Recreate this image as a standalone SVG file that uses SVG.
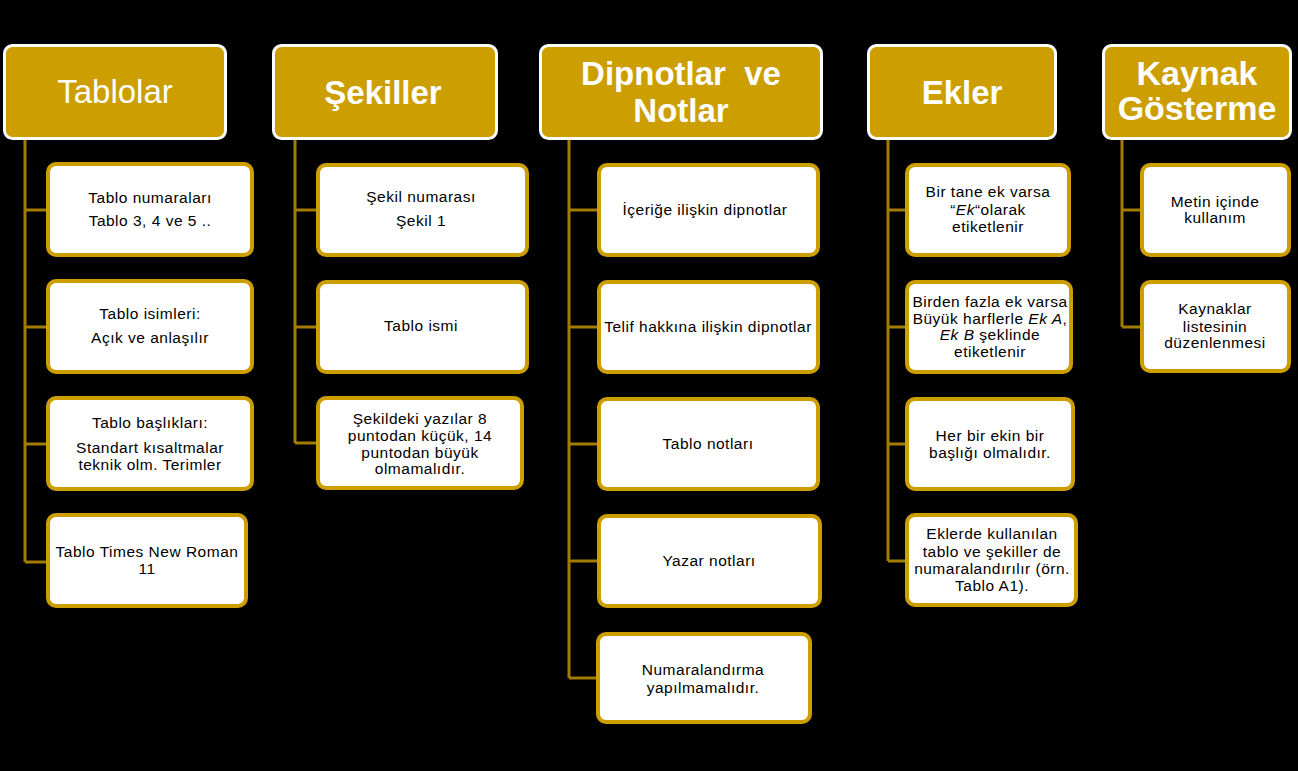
<svg xmlns="http://www.w3.org/2000/svg" width="1298" height="771" viewBox="0 0 1298 771">
<style>
.hd{fill:#CC9E00;stroke:#FFFFFF;stroke-width:3}
.bx{fill:#FFFFFF;stroke:#CC9E00;stroke-width:4}
.ht{font-family:"Liberation Sans",Arial,sans-serif;font-size:33px;font-weight:bold;fill:#FFFFFF;text-anchor:middle}
.ct{font-family:"Liberation Sans",Arial,sans-serif;font-size:15.5px;letter-spacing:0.5px;fill:#000000;text-anchor:middle}
.cn{stroke:#A37D00;stroke-width:3;fill:none}
</style>
<rect width="1298" height="771" fill="#000000"/>
<g id="connectors" class="cn">
<path d="M25,140V562M25,210H48M25,327H48M25,444H48M25,562H48"/>
<path d="M295,140V443M295,210H318M295,327H318M295,443H318"/>
<path d="M569,140V678M569,210H599M569,327H599M569,444H599M569,561H599M569,678H598"/>
<path d="M888,140V561M888,210H907M888,327H907M888,444H907M888,561H907"/>
<path d="M1122,140V327M1122,210H1142M1122,327H1142"/>
</g>
<g id="h-tablolar"><rect class="hd" x="4.5" y="45.5" width="221" height="93" rx="8"/><text class="ht" x="115" y="103" style="font-weight:normal;font-size:33px">Tablolar</text></g>
<g id="h-sekiller"><rect class="hd" x="273.5" y="45.5" width="223" height="93" rx="8"/><text class="ht" x="383" y="104">Şekiller</text></g>
<g id="h-dipnotlar"><rect class="hd" x="540.5" y="45.5" width="281" height="93" rx="8"/><text class="ht" x="681" y="85" xml:space="preserve">Dipnotlar  ve</text><text class="ht" x="681" y="122">Notlar</text></g>
<g id="h-ekler"><rect class="hd" x="868.5" y="45.5" width="187" height="93" rx="8"/><text class="ht" x="962" y="104">Ekler</text></g>
<g id="h-kaynak"><rect class="hd" x="1103.5" y="45.5" width="187" height="93" rx="8"/><text class="ht" x="1197" y="85" style="font-size:34px">Kaynak</text><text class="ht" x="1197" y="120" style="font-size:34px">Gösterme</text></g>

<g id="t1"><rect class="bx" x="48" y="164" width="204" height="91" rx="8"/><text class="ct" x="150" y="203">Tablo numaraları</text><text class="ct" x="150" y="226">Tablo 3, 4 ve 5 ..</text></g>
<g id="t2"><rect class="bx" x="48" y="281" width="204" height="91" rx="8"/><text class="ct" x="150" y="319">Tablo isimleri:</text><text class="ct" x="150" y="343">Açık ve anlaşılır</text></g>
<g id="t3"><rect class="bx" x="48" y="398" width="204" height="91" rx="8"/><text class="ct" x="150" y="428">Tablo başlıkları:</text><text class="ct" x="150" y="453">Standart kısaltmalar</text><text class="ct" x="150" y="470">teknik olm. Terimler</text></g>
<g id="t4"><rect class="bx" x="48" y="515" width="198" height="91" rx="8"/><text class="ct" x="147" y="557">Tablo Times New Roman</text><text class="ct" x="147" y="574">11</text></g>

<g id="s1"><rect class="bx" x="318" y="165" width="209" height="90" rx="8"/><text class="ct" x="421" y="202">Şekil numarası</text><text class="ct" x="421" y="226">Şekil 1</text></g>
<g id="s2"><rect class="bx" x="318" y="282" width="209" height="90" rx="8"/><text class="ct" x="421" y="331">Tablo ismi</text></g>
<g id="s3"><rect class="bx" x="318" y="398" width="204" height="90" rx="8"/><text class="ct" x="420" y="424">Şekildeki yazılar 8</text><text class="ct" x="420" y="441">puntodan küçük, 14</text><text class="ct" x="420" y="458">puntodan büyük</text><text class="ct" x="420" y="474">olmamalıdır.</text></g>

<g id="d1"><rect class="bx" x="599" y="165" width="219" height="90" rx="8"/><text class="ct" x="705" y="215">İçeriğe ilişkin dipnotlar</text></g>
<g id="d2"><rect class="bx" x="599" y="282" width="219" height="90" rx="8"/><text class="ct" x="708" y="332">Telif hakkına ilişkin dipnotlar</text></g>
<g id="d3"><rect class="bx" x="599" y="399" width="219" height="90" rx="8"/><text class="ct" x="708" y="449">Tablo notları</text></g>
<g id="d4"><rect class="bx" x="599" y="516" width="221" height="90" rx="8"/><text class="ct" x="709" y="566">Yazar notları</text></g>
<g id="d5"><rect class="bx" x="598" y="634" width="212" height="88" rx="8"/><text class="ct" x="703" y="675">Numaralandırma</text><text class="ct" x="703" y="693">yapılmamalıdır.</text></g>

<g id="e1"><rect class="bx" x="907" y="165" width="162" height="90" rx="8"/><text class="ct" x="988" y="197">Bir tane ek varsa</text><text class="ct" x="988" y="215">“<tspan font-style="italic">Ek</tspan>“olarak</text><text class="ct" x="988" y="232">etiketlenir</text></g>
<g id="e2"><rect class="bx" x="907" y="282" width="164" height="90" rx="8"/><text class="ct" x="990" y="307">Birden fazla ek varsa</text><text class="ct" x="990" y="324">Büyük harflerle <tspan font-style="italic">Ek A</tspan>,</text><text class="ct" x="990" y="340"><tspan font-style="italic">Ek B</tspan> şeklinde</text><text class="ct" x="990" y="357">etiketlenir</text></g>
<g id="e3"><rect class="bx" x="907" y="399" width="166" height="90" rx="8"/><text class="ct" x="990" y="441">Her bir ekin bir</text><text class="ct" x="990" y="458">başlığı olmalıdır.</text></g>
<g id="e4"><rect class="bx" x="907" y="515" width="169" height="90" rx="8"/><text class="ct" x="992" y="539">Eklerde kullanılan</text><text class="ct" x="992" y="557">tablo ve şekiller de</text><text class="ct" x="992" y="574">numaralandırılır (örn.</text><text class="ct" x="992" y="591">Tablo A1).</text></g>

<g id="k1"><rect class="bx" x="1142" y="165" width="147" height="90" rx="8"/><text class="ct" x="1215" y="207">Metin içinde</text><text class="ct" x="1215" y="223">kullanım</text></g>
<g id="k2"><rect class="bx" x="1142" y="282" width="147" height="89" rx="8"/><text class="ct" x="1215" y="314">Kaynaklar</text><text class="ct" x="1215" y="332">listesinin</text><text class="ct" x="1215" y="348">düzenlenmesi</text></g>
</svg>
